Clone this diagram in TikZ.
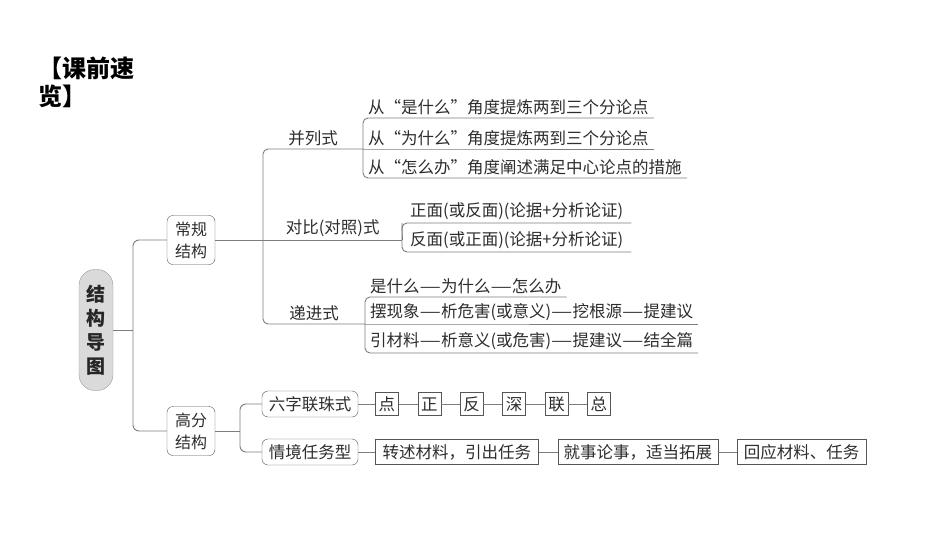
\documentclass[tikz,border=0pt]{standalone}
\usepackage{fontspec}
\setmainfont{Noto Sans CJK SC}
\usetikzlibrary{positioning}

\definecolor{linegray}{RGB}{125,125,125}
\definecolor{boxgray}{RGB}{85,85,85}
\definecolor{textgray}{RGB}{45,45,45}
\definecolor{rootfill}{RGB}{218,218,218}

% long dash
\newcommand{\fdash}{\scalebox{1.45}[1]{—}}

\begin{document}
\begin{tikzpicture}[x=1pt, y=-1pt]

    % Define styles
    \tikzset{
        link/.style={draw=linegray, line width=0.9pt},
        title text/.style={font=\fontsize{24}{28}\selectfont\bfseries, text=black, align=left, inner sep=0pt},
        root box/.style={draw=gray!80, fill=rootfill, rounded corners=16pt, minimum width=34pt, minimum height=121pt, align=center, font=\fontsize{19}{24}\selectfont\bfseries, text=black!85, inner sep=0pt},
        group box/.style={draw=boxgray, rounded corners=6pt, minimum width=48pt, minimum height=49pt, align=center, font=\fontsize{16}{22}\selectfont, text=textgray, inner sep=0pt},
        branch label/.style={anchor=south west, inner ysep=3pt, font=\fontsize{16.5}{20}\selectfont, text=textgray},
        leaf label/.style={anchor=south west, inner xsep=5pt, inner ysep=3pt, font=\fontsize{16.5}{20}\selectfont, text=textgray},
        way box/.style={draw=boxgray, rounded corners=6pt, minimum width=96pt, minimum height=26pt, inner sep=0pt, font=\fontsize{16.5}{20}\selectfont, text=textgray},
        bead box/.style={draw=boxgray, minimum width=23pt, minimum height=23pt, inner sep=0pt, font=\fontsize{16.5}{20}\selectfont, text=textgray},
        task box/.style={draw=boxgray, minimum height=25pt, inner sep=0pt, font=\fontsize{16.5}{20}\selectfont, text=textgray}
    }

    % Picture frame
    \useasboundingbox[fill=white] (0,0) rectangle (950,535);

    % Title
    \node[title text, anchor=north west] (title) at (38,57) {【课前速\\览】};

    % Root and the two main groups
    \node[root box] (root) at (96,330) {结\\构\\导\\图};
    \node[group box] (cg) at (191,240) {常规\\结构};
    \node[group box] (gf) at (191,431) {高分\\结构};

    \coordinate (root-join) at (133,330);
    \draw[link] (root.east) -- (root-join);
    \draw[link, rounded corners=6pt] (cg.west) -| (root-join) |- (gf.west);

    % Conventional structures: branch labels
    \node[branch label, minimum width=100pt, xshift=-6pt, inner xsep=0pt, text width=94pt, align=center] (bl) at (269,149) {并列式};
    \node[branch label, minimum width=139pt] (db) at (263,240) {对比(对照)式};
    \node[branch label, minimum width=102pt] (dj) at (263,324) {递进式};

    \draw[link, rounded corners=5pt] (bl.south east) -- (bl.south west) -- (dj.south west) -- (dj.south east);
    \draw[link] (db.south west) -- (db.south east);
    \draw[link] (cg.east) -- (db.south west);

    % Parallel
    \node[leaf label] (bl1) at (363,118) {从“是什么”角度提炼两到三个分论点};
    \node[leaf label] (bl2) at (363,149) {从“为什么”角度提炼两到三个分论点};
    \node[leaf label] (bl3) at (363,178) {从“怎么办”角度阐述满足中心论点的措施};
    \draw[link, rounded corners=5pt] (bl1.south east) -- (bl1.south west) -- (bl3.south west) -- (bl3.south east);
    \draw[link] (bl.south east) -- (bl2.south west) -- (bl2.south east);

    % Contrast
    \node[leaf label, inner xsep=8pt] (db1) at (402,223) {正面(或反面)(论据+分析论证)};
    \node[leaf label, inner xsep=8pt] (db2) at (402,252) {反面(或正面)(论据+分析论证)};
    \draw[link, rounded corners=5pt] (db1.south east) -- (db1.south west) -- (db2.south west) -- (db2.south east);
    \draw[link] (db.south east) -- (db1.south west);

    % Progressive
    \node[leaf label] (dj1) at (365,297) {是什么\fdash 为什么\fdash 怎么办};
    \node[leaf label] (dj2) at (365,324) {摆现象\fdash 析危害(或意义)\fdash 挖根源\fdash 提建议};
    \node[leaf label] (dj3) at (365,353) {引材料\fdash 析意义(或危害)\fdash 提建议\fdash 结全篇};
    \draw[link, rounded corners=5pt] (dj1.south east) -- (dj1.south west) -- (dj3.south west) -- (dj3.south east);
    \draw[link] (dj.south east) -- (dj2.south west) -- (dj2.south east);

    % High-score structures
    \node[way box] (lz) at (310,404) {六字联珠式};
    \node[way box] (qj) at (310,452) {情境任务型};

    \coordinate (gf-join) at (240,431);
    \draw[link] (gf.east) -- (gf-join);
    \draw[link, rounded corners=6pt] (lz.west) -| (gf-join) |- (qj.west);

    % Six-character chain
    \node[bead box, right=17pt of lz] (d1) {点};
    \node[bead box, right=19pt of d1] (d2) {正};
    \node[bead box, right=19pt of d2] (d3) {反};
    \node[bead box, right=19pt of d3] (d4) {深};
    \node[bead box, right=19pt of d4] (d5) {联};
    \node[bead box, right=19pt of d5] (d6) {总};
    \foreach \a/\b in {lz/d1, d1/d2, d2/d3, d3/d4, d4/d5, d5/d6}
        \draw[link] (\a) -- (\b);

    % Situational task chain
    \node[task box, minimum width=163pt, right=17pt of qj] (t1) {转述材料，引出任务};
    \node[task box, minimum width=160pt, right=19pt of t1] (t2) {就事论事，适当拓展};
    \node[task box, minimum width=129pt, right=19pt of t2] (t3) {回应材料、任务};
    \foreach \a/\b in {qj/t1, t1/t2, t2/t3}
        \draw[link] (\a) -- (\b);

\end{tikzpicture}
\end{document}
